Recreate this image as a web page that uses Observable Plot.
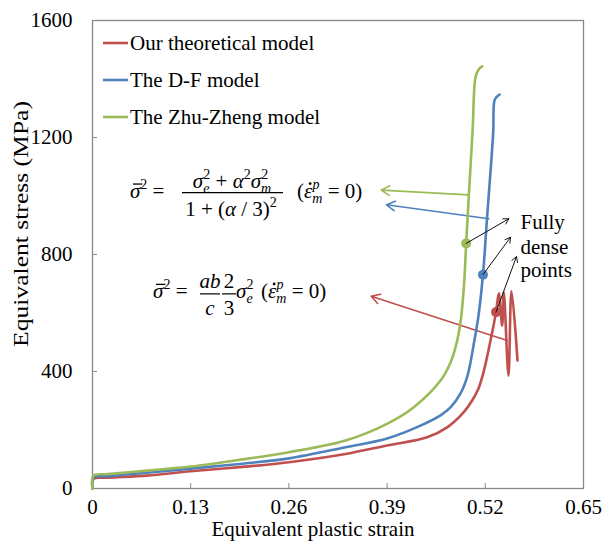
<!DOCTYPE html>
<html><head><meta charset="utf-8">
<script src="https://cdn.jsdelivr.net/npm/d3@7"></script>
<script src="https://cdn.jsdelivr.net/npm/@observablehq/plot@0.6"></script>
<style>
html,body{margin:0;padding:0;background:#fff;}
#chart{width:603px;height:544px;}
text{white-space:pre;}
</style></head><body><div id="chart"></div>
<script>
const strainTicks = [0, 0.13, 0.26, 0.39, 0.52, 0.65];
const stressTicks = [0, 400, 800, 1200, 1600];
const seriesNames = ["Our theoretical model", "The D-F model", "The Zhu-Zheng model"];
const seriesColors = ["#C0504D", "#4F81BD", "#9BBB59"];

const ourStrain = [0, 0.0013, 0.02, 0.072, 0.13, 0.195, 0.26, 0.335, 0.39, 0.443, 0.47, 0.4915, 0.5026, 0.511, 0.5176, 0.5236, 0.5296, 0.5342, 0.5379, 0.5423, 0.5445, 0.5507, 0.5547, 0.5626];
const ourStress = [0, 33, 37, 44, 59, 73, 90, 118, 147, 175, 210, 261, 301, 342, 397, 465, 540, 603, 667, 557, 671, 386, 674, 438];

const dfStrain = [0, 0.0013, 0.02, 0.072, 0.13, 0.195, 0.26, 0.335, 0.39, 0.4342, 0.4607, 0.4739, 0.4872, 0.4965, 0.5044, 0.511, 0.5169, 0.5224, 0.5304, 0.5322, 0.5355, 0.5389];
const dfStress = [0, 38, 42, 54, 68, 84, 103, 141, 171, 215, 250, 277, 325, 386, 489, 591, 731, 928, 1214, 1327, 1340, 1347];

const zzStrain = [0, 0.0013, 0.02, 0.072, 0.13, 0.195, 0.26, 0.335, 0.3905, 0.4249, 0.4607, 0.474, 0.4819, 0.4878, 0.4918, 0.4947, 0.4982, 0.5032, 0.507, 0.511, 0.5159];
const zzStress = [0, 44, 49, 61, 75, 98, 124, 164, 222, 277, 369, 431, 496, 581, 694, 838, 1002, 1224, 1405, 1432, 1443];

// fully dense points (one per model)
const denseStrain = [0.5342, 0.5169, 0.4947];
const denseStress = [603, 731, 838];

// annotation arrows: from curve to formula (colored), from dots to the note (black)
const pointerSeries = [0, 1, 2];
const pointerFromStrain = [0.549, 0.5246, 0.4982];
const pointerFromStress = [506, 922, 1004];
const pointerToStrain = [0.3689, 0.3892, 0.3822];
const pointerToStress = [657, 970, 1020];
const noteArrowStrain = [0.5613, 0.5534, 0.5511];
const noteArrowStress = [793, 859, 922];
const noteLines = ["Fully", "dense", "points"];
const noteStrain = 0.5666;
const noteStress = [909, 824, 745];
// formula anchors (data coordinates)
const formula1Anchor = [0.0503, 993];
const formula2Anchor = [0.0808, 650];

const serif = "'Liberation Serif','Times New Roman',serif";

const rows = [];
[[ourStrain, ourStress], [dfStrain, dfStress], [zzStrain, zzStress]].forEach(([xs, ys], k) => {
  xs.forEach((x, i) => rows.push({series: seriesNames[k], strain: x, stress: ys[i]}));
});
const dense = denseStrain.map((x, i) => ({series: seriesNames[i], strain: x, stress: denseStress[i]}));
const pointers = pointerSeries.map((k, i) => ({series: seriesNames[k], x1: pointerFromStrain[i], y1: pointerFromStress[i], x2: pointerToStrain[i], y2: pointerToStress[i]}));
const noteArrows = denseStrain.map((x, i) => ({x1: x, y1: denseStress[i], x2: noteArrowStrain[i], y2: noteArrowStress[i]}));
const notes = noteLines.map((t, i) => ({t, x: noteStrain, y: noteStress[i]}));

const color = {domain: seriesNames, range: seriesColors};

const svg = Plot.plot({
  width: 603, height: 544,
  marginLeft: 92, marginRight: 20, marginTop: 20, marginBottom: 56,
  style: {fontFamily: serif, fontSize: "21px", color: "#000", background: "#fff"},
  x: {domain: [0, 0.65]},
  y: {domain: [0, 1600]},
  color,
  marks: [
    Plot.frame({stroke: "#888", strokeWidth: 1.3}),
    Plot.axisX(strainTicks, {tickSize: -5, stroke: "#888", tickFormat: () => "", label: null}),
    Plot.axisX(strainTicks, {tickSize: 0, tickPadding: 11, fontSize: 21, tickFormat: d => d === 0 ? "0" : d.toFixed(2), label: null}),
    Plot.axisY(stressTicks, {tickSize: -5, stroke: "#888", tickFormat: () => "", label: null}),
    Plot.axisY(stressTicks, {tickSize: 0, tickPadding: 20, fontSize: 21, tickFormat: d => String(d), label: null}),
    Plot.arrow(pointers, {x1: "x1", y1: "y1", x2: "x2", y2: "y2", stroke: "series", strokeWidth: 1.6, headLength: 9}),
    Plot.line(rows, {x: "strain", y: "stress", z: "series", stroke: "series", strokeWidth: 2.6, curve: "catmull-rom", strokeLinejoin: "round", strokeLinecap: "round"}),
    Plot.dot(dense, {x: "strain", y: "stress", fill: "series", r: 5}),
    Plot.arrow(noteArrows, {x1: "x1", y1: "y1", x2: "x2", y2: "y2", stroke: "#111", strokeWidth: 1, headLength: 9}),
    Plot.text(notes, {x: "x", y: "y", text: "t", textAnchor: "start", fontSize: 21, fill: "#000"})
  ]
});
document.getElementById("chart").appendChild(svg);

const sx = svg.scale("x"), sy = svg.scale("y");
const g = d3.select(svg).append("g").attr("font-family", serif).attr("font-size", 21).attr("fill", "#000").attr("text-anchor", "start");

// legend
seriesNames.forEach((name, i) => {
  const yy = 43 + 37 * i;
  g.append("line").attr("x1", 103).attr("x2", 128).attr("y1", yy).attr("y2", yy)
    .attr("stroke", seriesColors[i]).attr("stroke-width", 2.6);
  g.append("text").attr("x", 130).attr("y", yy).attr("dy", "0.35em").attr("text-anchor", "start").text(name);
});

// axis titles
g.append("text").attr("x", 313).attr("y", 536).attr("text-anchor", "middle").text("Equivalent plastic strain");
g.append("text").attr("transform", "translate(21,224) rotate(-90)").attr("text-anchor", "middle").attr("dy", "0.35em")
  .attr("textLength", 246).attr("lengthAdjust", "spacingAndGlyphs").text("Equivalent stress (MPa)");

// rich text helper
function rich(x, y, parts, anchor) {
  const t = g.append("text").attr("x", x).attr("y", y).attr("text-anchor", anchor || "start");
  let shift = 0, idx = 0;
  const decos = [];
  for (const p of parts) {
    const target = p.sup ? -9 : p.sub ? 5 : 0;
    const s = t.append("tspan").attr("dy", target - shift).text(p.t);
    shift = target;
    if (p.dx) s.attr("dx", p.dx);
    if (p.sup || p.sub) s.attr("font-size", 14);
    if (p.i) s.attr("font-style", "italic");
    if (p.deco) decos.push([p.deco, idx]);
    idx += p.t.length;
  }
  const node = t.node();
  for (const [kind, i] of decos) {
    const a = node.getStartPositionOfChar(i), b = node.getEndPositionOfChar(i);
    if (kind === "bar") {
      g.append("line").attr("x1", a.x + 3).attr("x2", b.x + 2).attr("y1", a.y - 13.5).attr("y2", a.y - 13.5)
        .attr("stroke", "#000").attr("stroke-width", 1.3);
    } else {
      g.append("circle").attr("cx", (a.x + b.x) / 2 + 2).attr("cy", a.y - 14).attr("r", 1.4).attr("fill", "#000");
    }
  }
  return t;
}
function bar(x1, x2, y) {
  g.append("line").attr("x1", x1).attr("x2", x2).attr("y1", y).attr("y2", y).attr("stroke", "#000").attr("stroke-width", 1.2);
}
const sigBar = {t: "\u03C3", i: true, deco: "bar"};
const epsDot = {t: "\u03B5", i: true, deco: "dot"};

// formula 1
{
  const ax = sx.apply(formula1Anchor[0]), ay = sy.apply(formula1Anchor[1]);
  rich(ax, ay, [sigBar, {t: "2", sup: true}, {t: " ="}]);
  rich(ax + 102, ay - 10, [{t: "\u03C3", i: true}, {t: "e", i: true, sub: true}, {t: "2", sup: true, dx: -6}, {t: " + "}, {t: "\u03B1", i: true}, {t: "2", sup: true}, {t: "\u03C3", i: true}, {t: "m", i: true, sub: true}, {t: "2", sup: true, dx: -10}], "middle");
  bar(ax + 52, ax + 153, ay - 5);
  rich(ax + 101, ay + 18, [{t: "1 + ("}, {t: "\u03B1", i: true}, {t: " / 3)"}, {t: "2", sup: true}], "middle");
  rich(ax + 167, ay, [{t: "("}, epsDot, {t: "m", i: true, sub: true}, {t: "p", i: true, sup: true, dx: -10}, {t: " = 0)", dx: 3}]);
}
// formula 2
{
  const ax = sx.apply(formula2Anchor[0]), ay = sy.apply(formula2Anchor[1]);
  rich(ax, ay, [sigBar, {t: "2", sup: true}, {t: " ="}]);
  rich(ax + 57, ay - 10, [{t: "ab", i: true}], "middle");
  rich(ax + 57, ay + 17, [{t: "c", i: true}], "middle");
  bar(ax + 47, ax + 67, ay - 4);
  rich(ax + 76, ay - 10, [{t: "2"}], "middle");
  rich(ax + 76, ay + 17, [{t: "3"}], "middle");
  bar(ax + 69, ax + 83, ay - 4);
  rich(ax + 83, ay, [{t: "\u03C3", i: true}, {t: "e", i: true, sub: true}, {t: "2", sup: true, dx: -6}]);
  rich(ax + 108, ay, [{t: "("}, epsDot, {t: "m", i: true, sub: true}, {t: "p", i: true, sup: true, dx: -10}, {t: " = 0)", dx: 3}]);
}
</script></body></html>
